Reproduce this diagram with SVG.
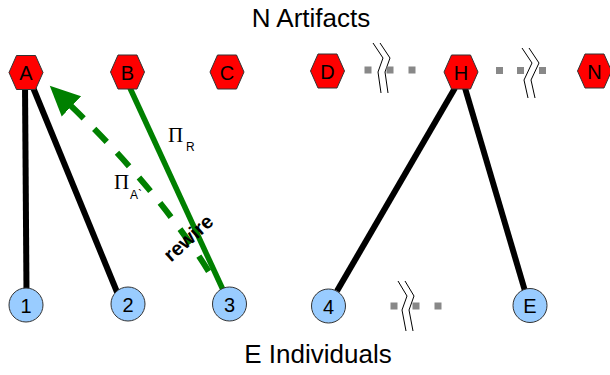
<svg xmlns="http://www.w3.org/2000/svg" xmlns:xlink="http://www.w3.org/1999/xlink" width="610" height="375" viewBox="0 0 610 375">
<style>
.title{font-family:"Liberation Sans",Arial,sans-serif;font-size:26px;fill:#000;text-anchor:middle}
.lbl{font-family:"Liberation Sans",Arial,sans-serif;font-size:20px;fill:#000;text-anchor:middle}
.hex{fill:#ff0000;stroke:#333;stroke-width:1}
.ind{fill:#99ccff;stroke:#333;stroke-width:1}
.edge{stroke:#000;stroke-width:6;fill:none}
.green{stroke:#008000;stroke-width:5.5;fill:none}
.dash{stroke:#008000;stroke-width:6;fill:none;stroke-dasharray:18 15}
.zig{stroke:#000;stroke-width:1;fill:none}
.dot{fill:#888}
.pi{font-family:"Liberation Serif","Times New Roman",serif;font-size:21px;fill:#000}
.sub{font-family:"Liberation Sans",Arial,sans-serif;font-size:12px;fill:#000}
.rew{font-family:"Liberation Sans",Arial,sans-serif;font-size:20px;font-weight:bold;fill:#000;text-anchor:middle}
</style>
<defs>
<polygon id="hex" points="-17,0 -9.5,-17 9.5,-17 17,0 9.5,17 -9.5,17"/>
<marker id="garrow" markerUnits="userSpaceOnUse" markerWidth="32" markerHeight="32" viewBox="0 0 32 32" refX="1" refY="16" orient="auto-start-reverse">
<path d="M0,2 L30,16 L0,30 Z" fill="#008000"/>
</marker>
</defs>
<rect width="610" height="375" fill="#fff"/>
<text class="title" x="311" y="27">N Artifacts</text>
<text class="title" x="318" y="363">E Individuals</text>

<g id="connectors">
<line class="edge" x1="25" y1="85" x2="26.5" y2="292"/>
<line class="edge" x1="32" y1="85" x2="117" y2="292"/>
<line class="edge" x1="455" y1="88" x2="337" y2="291"/>
<line class="edge" x1="465" y1="88" x2="525" y2="291"/>
<line class="green" x1="130" y1="88" x2="224" y2="292"/>
<path class="dash" d="M70.7,105.7 Q160.5,191.8 214,280" marker-start="url(#garrow)"/>
</g>

<g id="labels">
<text class="pi" x="168" y="142">Π</text>
<text class="sub" x="186" y="151">R</text>
<text class="pi" x="114" y="189">Π</text>
<text class="sub" x="130" y="199">A`</text>
<text class="rew" transform="translate(193,243) rotate(-42)">rewire</text>
</g>

<g id="breaks">
<polyline class="zig" points="373,43 383,58 378,72 381,93"/>
<polyline class="zig" points="380,43 390,58 385,72 388,93"/>
<polyline class="zig" points="522,48 532,63 524,80 528,98"/>
<polyline class="zig" points="529,48 539,63 531,80 535,98"/>
<polyline class="zig" points="398,281 407,296 402,310 406,331"/>
<polyline class="zig" points="405,281 414,296 409,310 413,331"/>
<rect class="dot" x="364.5" y="66.5" width="7" height="7"/>
<rect class="dot" x="386.5" y="66.5" width="7" height="7"/>
<rect class="dot" x="408.5" y="66.5" width="7" height="7"/>
<rect class="dot" x="496" y="67" width="7" height="7"/>
<rect class="dot" x="517" y="67" width="7" height="7"/>
<rect class="dot" x="539" y="67" width="7" height="7"/>
<rect class="dot" x="390.5" y="302.5" width="7" height="7"/>
<rect class="dot" x="412.5" y="302.5" width="7" height="7"/>
<rect class="dot" x="434.5" y="302.5" width="7" height="7"/>
</g>

<g id="node-A"><use xlink:href="#hex" class="hex" x="26" y="72.5"/><text class="lbl" x="26" y="80">A</text></g>
<g id="node-B"><use xlink:href="#hex" class="hex" x="127.5" y="72"/><text class="lbl" x="127.5" y="79.5">B</text></g>
<g id="node-C"><use xlink:href="#hex" class="hex" x="227" y="72"/><text class="lbl" x="227" y="79.5">C</text></g>
<g id="node-D"><use xlink:href="#hex" class="hex" x="327.5" y="71"/><text class="lbl" x="327.5" y="78.5">D</text></g>
<g id="node-H"><use xlink:href="#hex" class="hex" x="461" y="72"/><text class="lbl" x="461" y="79.5">H</text></g>
<g id="node-N"><use xlink:href="#hex" class="hex" x="594.5" y="71"/><text class="lbl" x="594.5" y="78.5">N</text></g>

<g id="node-1"><circle class="ind" cx="26" cy="305" r="17"/><text class="lbl" x="26" y="312.5">1</text></g>
<g id="node-2"><circle class="ind" cx="128" cy="304" r="17"/><text class="lbl" x="128" y="311.5">2</text></g>
<g id="node-3"><circle class="ind" cx="229.5" cy="304" r="17"/><text class="lbl" x="229.5" y="311.5">3</text></g>
<g id="node-4"><circle class="ind" cx="328.5" cy="306" r="17"/><text class="lbl" x="328.5" y="313.5">4</text></g>
<g id="node-E"><circle class="ind" cx="530" cy="305.5" r="17"/><text class="lbl" x="530" y="313">E</text></g>
</svg>
